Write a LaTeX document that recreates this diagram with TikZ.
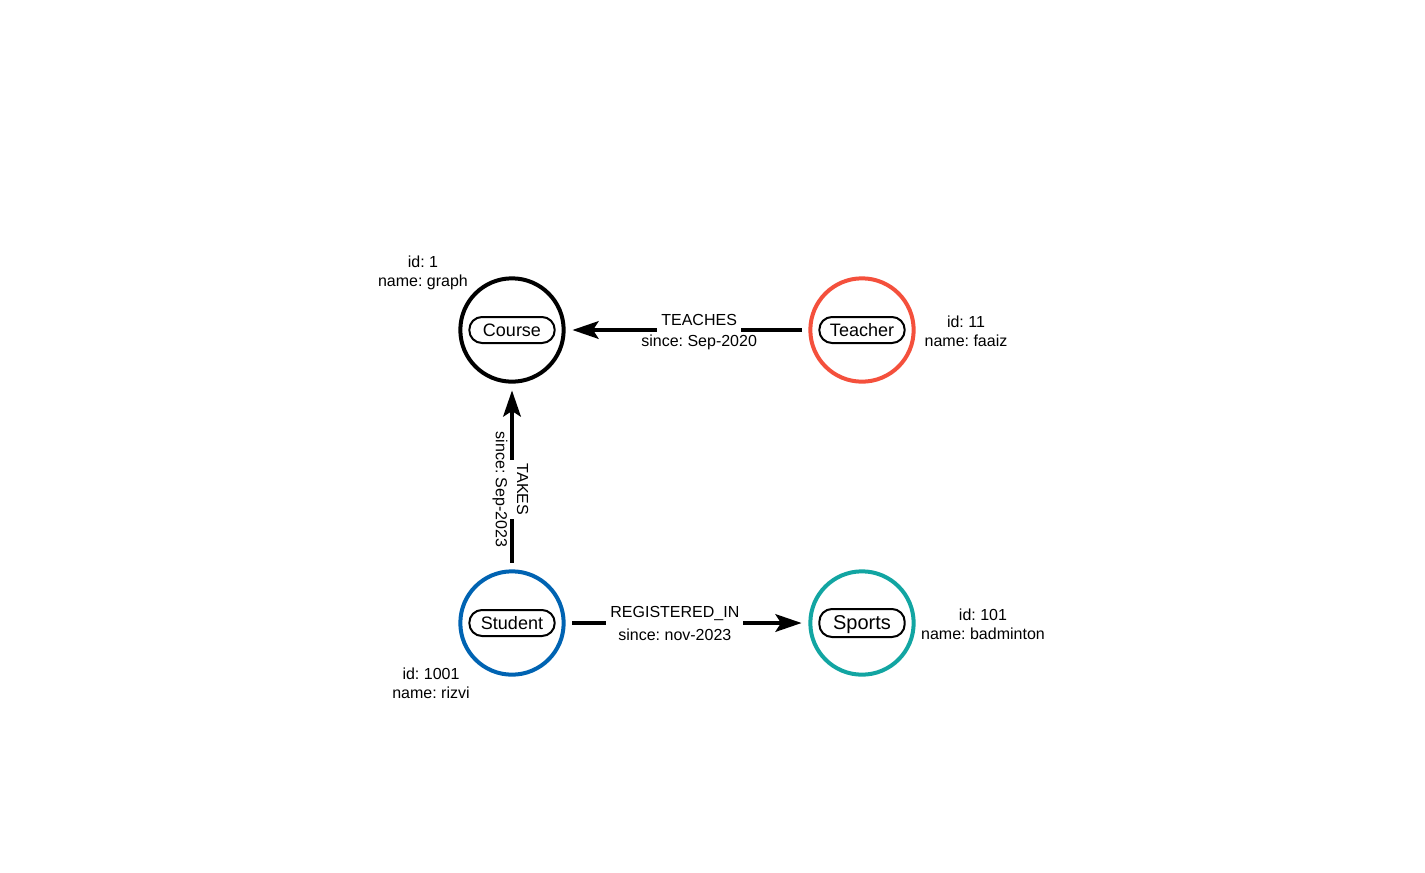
\documentclass[tikz,border=0pt]{standalone}
\usepackage{fontspec}
\setmainfont{Liberation Sans}
\usetikzlibrary{arrows.meta,positioning}
\frenchspacing

\definecolor{teacherred}{RGB}{244,80,60}
\definecolor{studentblue}{RGB}{0,99,178}
\definecolor{sportsteal}{RGB}{18,165,162}

\tikzset{
  entity/.style={circle, draw=#1, line width=3pt, minimum size=77.5pt, inner sep=0pt},
  tag/.style={draw, rounded corners=9.5pt, line width=1.5pt, minimum width=64pt,
    minimum height=19.5pt, inner sep=0pt, text depth=0pt, font=\fontsize{13.5}{16}\selectfont},
  props/.style={align=center, inner sep=0pt, font=\fontsize{12}{14.3}\selectfont},
  rel/.style={line width=3.5pt, -{Stealth[length=19.5pt, width=13pt, inset=4pt]},
    shorten >=5pt, shorten <=5pt},
  relname/.style={fill=white, inner xsep=3pt, inner ysep=0pt, minimum height=19.5pt,
    font=\fontsize{12}{14}\selectfont},
  reldetail/.style={inner sep=0pt, font=\fontsize{12}{14}\selectfont}
}

\begin{document}
\begin{tikzpicture}[x=0.75pt, y=0.75pt, node distance=262.5pt]
  \useasboundingbox (0,0) rectangle (1425,-872);

  % entities
  \node[entity=black] (course) at (512,-330) {};
  \node[entity=teacherred] (teacher) [right of=course] {};
  \node[entity=studentblue] (student) [below of=course, node distance=219.75pt] {};
  \node[entity=sportsteal] (sports) [right of=student] {};

  \node[tag] (coursetag) at (course) {Course};
  \node[tag] (teachertag) at (teacher) {Teacher};
  \node[tag] (studenttag) at (student) {Student};
  \node[tag, minimum height=21pt, font=\fontsize{15}{17}\selectfont] (sportstag) at (sports) {Sports};

  % properties
  \node[props] (courseprops) at (423,-273) {id: 1\\name: graph};
  \node[props] (teacherprops) at (966,-331) {id: 11\\name: faaiz};
  \node[props] (studentprops) at (431,-683) {id: 1001\\name: rizvi};
  \node[props] (sportsprops) at (983,-624) {id: 101\\name: badminton};

  % relations
  \draw[rel] (teacher) -- node[relname, pos=.45, yshift=7.5pt] (teaches) {TEACHES}
    node[reldetail, pos=.45, yshift=-9pt] (teachessince) {since: Sep-2020} (course);
  \draw[rel] (student) -- node[relname, pos=.43, rotate=-90, yshift=8pt] (takes) {TAKES}
    node[reldetail, pos=.43, rotate=-90, yshift=-9pt] (takessince) {since: Sep-2023} (course);
  \draw[rel] (student) -- node[relname, pos=.45, yshift=7.5pt] (registered) {REGISTERED\_IN}
    node[reldetail, pos=.45, yshift=-9pt] (registeredsince) {since: nov-2023} (sports);
\end{tikzpicture}
\end{document}
